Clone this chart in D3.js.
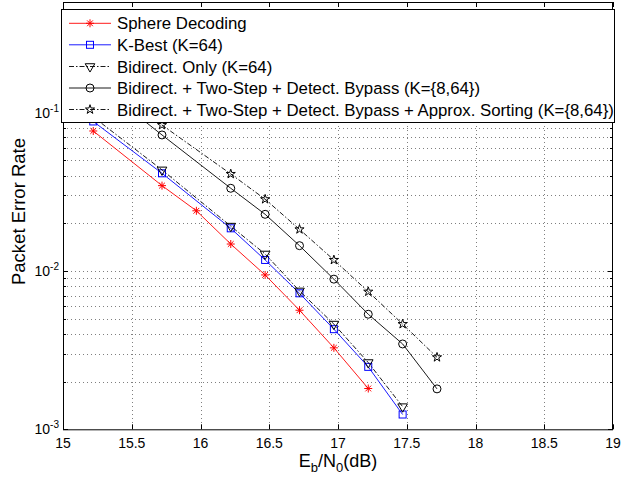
<!DOCTYPE html>
<html><head><meta charset="utf-8">
<script src="https://cdn.jsdelivr.net/npm/d3@7"></script>
<style>
html,body{margin:0;padding:0;background:#fff;}
svg{display:block;font-family:"Liberation Sans",Arial,sans-serif;}
</style></head>
<body><svg id="c" width="632" height="479"></svg>
<script>
// ---- data ----
const xTickValues = [15,15.5,16,16.5,17,17.5,18,18.5,19];
const xTickLabels = ["15","15.5","16","16.5","17","17.5","18","18.5","19"];
const yMajorTicks = [1e-3,1e-2,1e-1];
const yMajorExps = ["-3","-2","-1"];

const seriesNames = [
  "Sphere Decoding",
  "K-Best (K=64)",
  "Bidirect. Only (K=64)",
  "Bidirect. + Two-Step + Detect. Bypass (K={8,64})",
  "Bidirect. + Two-Step + Detect. Bypass + Approx. Sorting (K={8,64})"
];
const sphereX = [15.22,15.72,15.97,16.22,16.47,16.72,16.97,17.22];
const sphereY = [0.0766,0.0346,0.0240,0.0148,0.00944,0.00565,0.00327,0.00181];
const kbestX = [15.22,15.72,16.22,16.47,16.72,16.97,17.22,17.47];
const kbestY = [0.088,0.0414,0.0186,0.01174,0.00723,0.00429,0.00248,0.00124];
const bidirX = [15.22,15.72,16.22,16.47,16.72,16.97,17.22,17.47];
const bidirY = [0.094,0.0435,0.0192,0.0128,0.00748,0.00462,0.00264,0.00139];
const twoStepX = [15.22,15.72,16.22,16.47,16.72,16.97,17.22,17.47,17.72];
const twoStepY = [0.16,0.0723,0.0333,0.0228,0.01445,0.00888,0.00533,0.00346,0.00180];
const approxX = [15.22,15.72,16.22,16.47,16.72,16.97,17.22,17.47,17.72];
const approxY = [0.17,0.0835,0.0410,0.0284,0.01832,0.01174,0.0074,0.00462,0.00285];

// ---- layout ----
const L=63, R=613, T=2, B=429.3;
const svg = d3.select("#c");
const x = d3.scaleLinear().domain([15,19]).range([L,R]);
const y = d3.scaleLog().domain([1e-3,0.5]).range([B,T]);

const styles = [
  {color:"#ff0000", dash:null, marker:"asterisk"},
  {color:"#0000ff", dash:null, marker:"square"},
  {color:"#000000", dash:"5,2,1.5,2", marker:"triangleDown"},
  {color:"#000000", dash:null, marker:"circle"},
  {color:"#000000", dash:"5,2,1.5,2", marker:"star"}
];
const series = [
  {xs:sphereX, ys:sphereY},
  {xs:kbestX, ys:kbestY},
  {xs:bidirX, ys:bidirY},
  {xs:twoStepX, ys:twoStepY},
  {xs:approxX, ys:approxY}
];

// minor y ticks
const yMinor = [];
[1e-3,1e-2,1e-1].forEach(d=>{for(let k=2;k<=9;k++){const v=d*k; if(v<=0.5+1e-12) yMinor.push(v);}});

// grid
const grid = svg.append("g").attr("stroke","#000").attr("stroke-opacity",0.5)
  .attr("stroke-width",1).attr("stroke-dasharray","1,3");
xTickValues.slice(1,-1).forEach(v=>{
  grid.append("line").attr("x1",Math.round(x(v))+0.5).attr("x2",Math.round(x(v))+0.5).attr("y1",T).attr("y2",B);
});
yMajorTicks.concat(yMinor).forEach(v=>{
  if (y(v) > T+1 && y(v) < B-1)
  grid.append("line").attr("x1",L).attr("x2",R).attr("y1",Math.round(y(v))+0.5).attr("y2",Math.round(y(v))+0.5);
});

// ticks
const tk = svg.append("g").attr("stroke","#000").attr("stroke-width",1);
xTickValues.forEach(v=>{
  const px=Math.round(x(v))+0.5;
  tk.append("line").attr("x1",px).attr("x2",px).attr("y1",B).attr("y2",B-5);
  tk.append("line").attr("x1",px).attr("x2",px).attr("y1",T).attr("y2",T+5);
});
yMajorTicks.forEach(v=>{
  const py=Math.round(y(v))+0.5;
  tk.append("line").attr("x1",L).attr("x2",L+5).attr("y1",py).attr("y2",py);
  tk.append("line").attr("x1",R).attr("x2",R-5).attr("y1",py).attr("y2",py);
});
yMinor.forEach(v=>{
  const py=Math.round(y(v))+0.5;
  tk.append("line").attr("x1",L).attr("x2",L+3).attr("y1",py).attr("y2",py);
  tk.append("line").attr("x1",R).attr("x2",R-3).attr("y1",py).attr("y2",py);
});

// series
const line = d3.line().x(d=>x(d[0])).y(d=>y(d[1]));
const asteriskPath = s => {
  const r=s/2, d=r*0.72;
  return `M${-r},0L${r},0M0,${-r}L0,${r}M${-d},${-d}L${d},${d}M${-d},${d}L${d},${-d}`;
};
function drawMarker(g, type, cx, cy, color){
  if(type==="asterisk"){
    g.append("path").attr("d",asteriskPath(8)).attr("transform",`translate(${cx},${cy})`)
      .attr("stroke",color).attr("fill","none").attr("stroke-width",1);
  } else if(type==="square"){
    g.append("rect").attr("x",cx-3.5).attr("y",cy-3.5).attr("width",7).attr("height",7)
      .attr("stroke",color).attr("fill","none").attr("stroke-width",1);
  } else if(type==="triangleDown"){
    g.append("path").attr("d",d3.symbol(d3.symbolTriangle,40)()).attr("transform",`translate(${cx},${cy}) rotate(180)`)
      .attr("stroke",color).attr("fill","none").attr("stroke-width",1);
  } else if(type==="circle"){
    g.append("circle").attr("cx",cx).attr("cy",cy).attr("r",4)
      .attr("stroke",color).attr("fill","none").attr("stroke-width",1);
  } else if(type==="star"){
    g.append("path").attr("d",d3.symbol(d3.symbolStar,26)()).attr("transform",`translate(${cx},${cy})`)
      .attr("stroke",color).attr("fill","none").attr("stroke-width",1);
  }
}
svg.append("clipPath").attr("id","clip").append("rect").attr("x",L).attr("y",T).attr("width",R-L).attr("height",B-T);
const plot = svg.append("g").attr("clip-path","url(#clip)");
series.forEach((s,i)=>{
  const st=styles[i];
  const pts = s.xs.map((v,j)=>[v,s.ys[j]]);
  plot.append("path").datum(pts).attr("d",line).attr("fill","none")
    .attr("stroke",st.color).attr("stroke-width",0.9)
    .attr("stroke-dasharray",st.dash);
  const mg = plot.append("g");
  pts.forEach(p=>drawMarker(mg, st.marker, x(p[0]), y(p[1]), st.color));
});

// axis box
svg.append("rect").attr("x",L+0.5).attr("y",T+0.5).attr("width",R-L-1).attr("height",B-T)
  .attr("fill","none").attr("stroke","#000").attr("stroke-width",1);

// tick labels
const xl = svg.append("g").attr("font-size","14px").attr("text-anchor","middle").attr("fill","#000");
xTickValues.forEach((v,i)=>{
  xl.append("text").attr("x",x(v)).attr("y",448).text(xTickLabels[i]);
});
const yl = svg.append("g").attr("font-size","14px").attr("text-anchor","end").attr("fill","#000");
yMajorTicks.forEach((v,i)=>{
  const t = yl.append("text").attr("x",59).attr("y",y(v)+5);
  t.append("tspan").text("10");
  t.append("tspan").attr("font-size","10px").attr("dy",-6).text(yMajorExps[i]);
});

// axis labels
const xlab = svg.append("text").attr("x",338).attr("y",467).attr("text-anchor","middle")
  .attr("font-size","18px").attr("fill","#000");
xlab.append("tspan").text("E");
xlab.append("tspan").attr("font-size","13px").attr("dy",5).text("b");
xlab.append("tspan").attr("dy",-5).text("/N");
xlab.append("tspan").attr("font-size","13px").attr("dy",5).text("0");
xlab.append("tspan").attr("dy",-5).text("(dB)");

svg.append("text").attr("transform","translate(25,211.5) rotate(-90)").attr("text-anchor","middle")
  .attr("font-size","18.5px").attr("fill","#000").text("Packet Error Rate");

// legend
const lg = svg.append("g");
lg.append("rect").attr("x",61.5).attr("y",9.5).attr("width",553).attr("height",113)
  .attr("fill","#fff").attr("stroke","#000").attr("stroke-width",1);
const rowY = [23.3,44.8,66.5,88,109.5];
seriesNames.forEach((name,i)=>{
  const st=styles[i], ry=rowY[i];
  lg.append("line").attr("x1",69).attr("x2",111).attr("y1",ry).attr("y2",ry)
    .attr("stroke",st.color).attr("stroke-width",0.9).attr("stroke-dasharray",st.dash);
  drawMarker(lg, st.marker, 90, ry, st.color);
  lg.append("text").attr("x",117).attr("y",ry+6).attr("font-size","16.8px").attr("fill","#000").text(name);
});
</script></body></html>
